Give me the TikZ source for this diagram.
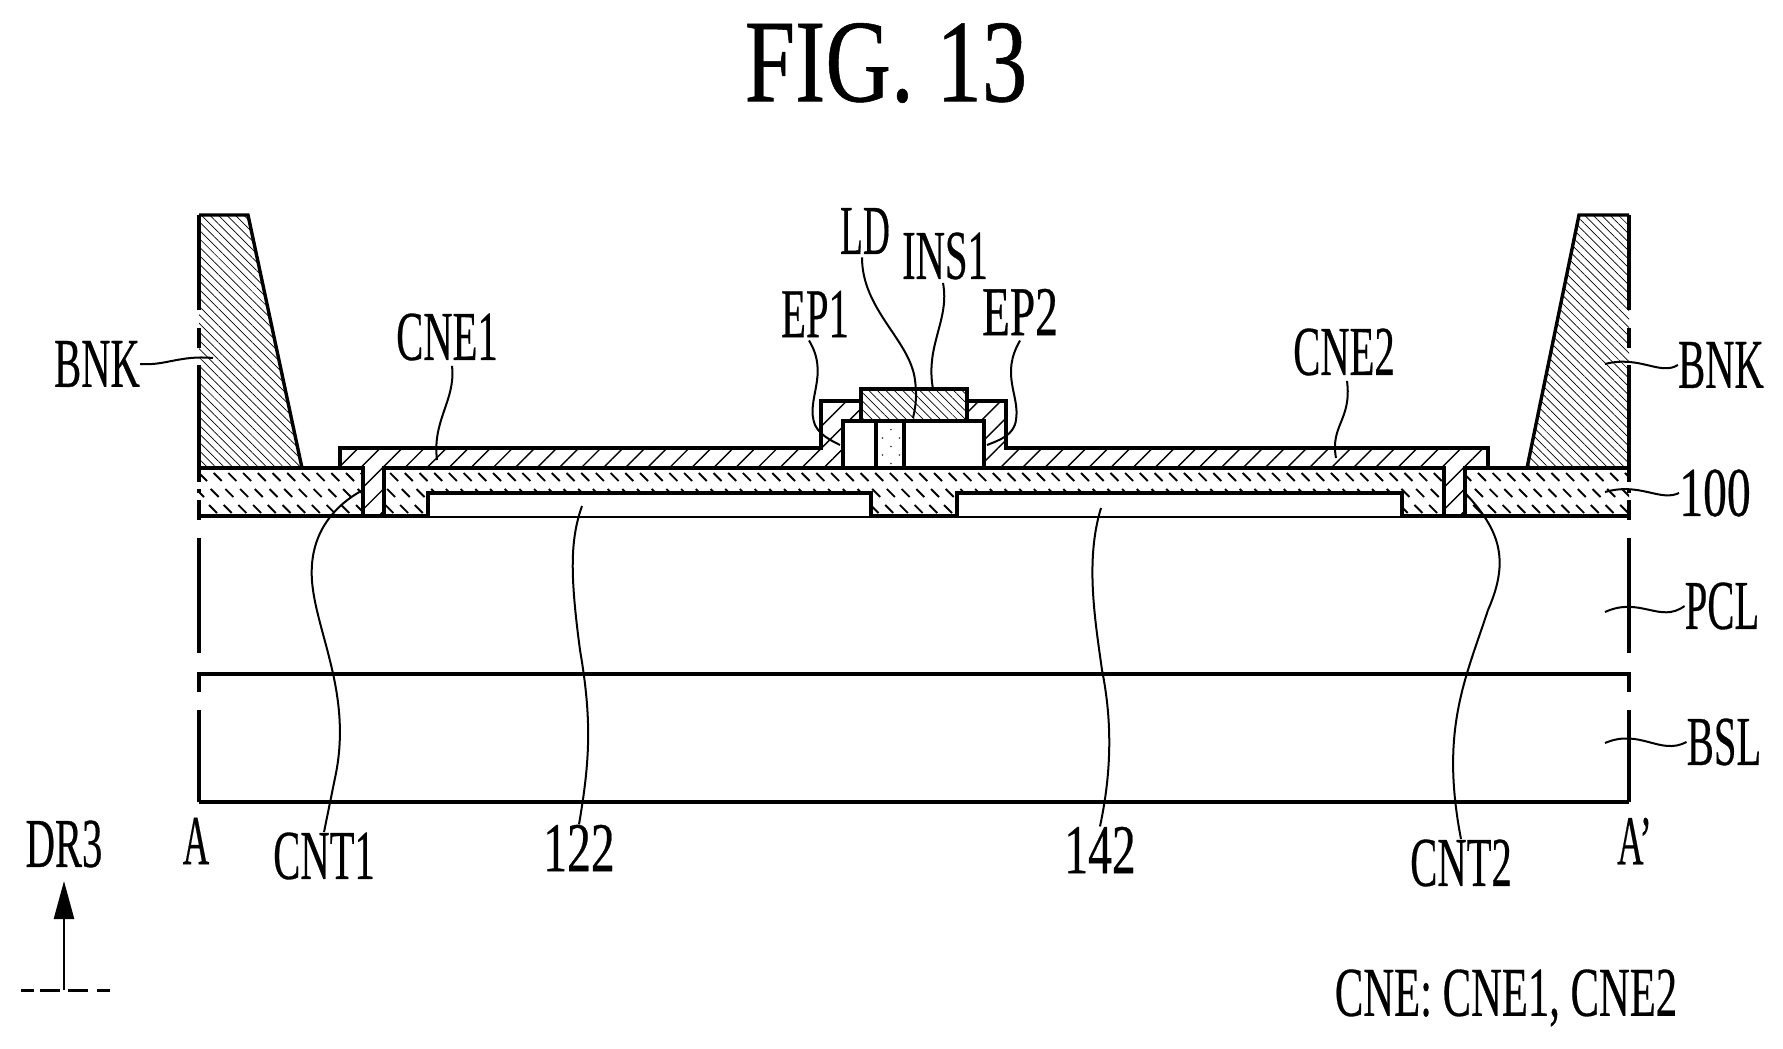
\documentclass[tikz,border=0pt]{standalone}
\usepackage{fontspec}
\setmainfont{Liberation Serif}[FakeBold=.5]
\usetikzlibrary{patterns.meta,arrows.meta}
\tikzset{
  lbl/.style={inner sep=0pt,font=\fontsize{35}{35}\selectfont,xscale=.58},
  num/.style={inner sep=0pt,font=\fontsize{35}{35}\selectfont,xscale=.68},
  part/.style={line width=1.7pt,line join=miter},
  leader/.style={line width=1pt},
  tick/.style={line width=.95pt},
  bnkhatch/.style={pattern={Lines[angle=-45,distance=3pt,line width=.35pt]}},
  cnehatch/.style={preaction={fill=white},pattern={Lines[angle=45,distance=7.8pt,line width=.7pt]}},
}
\begin{document}
\begin{tikzpicture}[line cap=butt,x=.5pt,y=-.5pt]
\useasboundingbox (0,0) rectangle (1783,1049);
%labels
\node[inner sep=0pt,font=\fontsize{59}{59}\selectfont,xscale=.77] (fig) at (886,63) {FIG. 13};
\node[lbl] (bnkl) at (97,364) {BNK};
\node[lbl] (bnkr) at (1721,365) {BNK};
\node[lbl] (cnea) at (447,337) {CNE1};
\node[lbl] (cneb) at (1344,352) {CNE2};
\node[lbl,xscale=.92] (ld) at (865,231) {LD};
\node[lbl] (insa) at (945,256) {INS1};
\node[lbl] (epa) at (815,314) {EP1};
\node[lbl,xscale=1.12] (epb) at (1020,312) {EP2};
\node[num] (sub) at (1715,493) {100};
\node[lbl] (pcl) at (1722,606) {PCL};
\node[lbl] (bsl) at (1724,742) {BSL};
\node[lbl,xscale=.9] (seca) at (196,841) {A};
\node[lbl,anchor=west,xscale=.9] (secb) at (1617,841) {A’};
\node[lbl] (cnta) at (324,856) {CNT1};
\node[num] (pa) at (579,848) {122};
\node[num] (pb) at (1100,850) {142};
\node[lbl] (cntb) at (1461,863) {CNT2};
\node[lbl] (dr) at (64,844) {DR3};
\node[lbl,xscale=1.05] (note) at (1506,998) {CNE: CNE1, CNE2};
%%%%%%%%
%bank left and right
\path[bnkhatch] (199,215) -- (248,215) -- (302,468) -- (199,468) -- cycle;
\path[bnkhatch] (1629,215) -- (1579,215) -- (1527,468) -- (1629,468) -- cycle;
\draw[part] (199,215) -- (248,215) -- (302,468);
\draw[part] (1629,215) -- (1579,215) -- (1527,468);
%layer 100 ticks
\begin{scope}
\clip (199,468) rectangle (1629,516);
\foreach \x in {0,...,97} {
  \draw[tick] (199+14.7*\x,473) -- +(8,8);
  \draw[tick] (196+14.7*\x,489) -- +(8,8);
  \draw[tick] (209+14.7*\x,505) -- +(8,8);
}
\end{scope}
\draw[part] (199,468) -- (1629,468);
\draw[part] (199,516) -- (1629,516);
%electrodes 122, 142
\draw[part,fill=white] (428,516) -- (428,493) -- (871,493) -- (871,516);
\draw[part,fill=white] (957,516) -- (957,493) -- (1402,493) -- (1402,516);
%CNE1, CNE2
\draw[part,cnehatch] (340,468) -- (340,448) -- (821,448) -- (821,401) -- (861,401) -- (861,421) -- (843,421) -- (843,468) -- (384,468) -- (384,516) -- (363,516) -- (363,468) -- cycle;
\draw[part,cnehatch] (967,401) -- (1006,401) -- (1006,448) -- (1488,448) -- (1488,468) -- (1465,468) -- (1465,516) -- (1444,516) -- (1444,468) -- (984,468) -- (984,421) -- (967,421) -- cycle;
%LD
\draw[part,fill=white] (843,421) rectangle (984,468);
\draw[part,pattern={Dots[angle=45,distance=6pt,radius=.4pt]}] (876,421) rectangle (904,468);
%INS1
\draw[part,fill=white] (861,389) rectangle (967,421);
\path[bnkhatch] (861,389) rectangle (967,421);
%%edges with breaks
\foreach \x in {199,1629} {
  \foreach \a/\b in {467/482,489/493,500/520,538/653,672/692,710/802}
    \draw[part] (\x,\a) -- (\x,\b);
}
\foreach \a/\b in {215/310,328/348,365/468}
  \draw[part] (199,\a) -- (199,\b);
\foreach \a/\b in {215/310,328/348,365/468}
  \draw[part] (1629,\a) -- (1629,\b);
%lower layers
\draw[part] (199,674) -- (1629,674);
\draw[part] (199,802) -- (1629,802);
%%leaders
\coordinate (bnkla) at (213,358);
\coordinate (bnkra) at (1605,364);
\coordinate (cneaa) at (437,460);
\coordinate (cneba) at (1336,458);
\coordinate (lda) at (913,418);
\coordinate (insaa) at (933,389);
\coordinate (epaa) at (840,445);
\coordinate (epba) at (987,445);
\coordinate (suba) at (1605,492);
\coordinate (pcla) at (1605,612);
\coordinate (bsla) at (1605,743);
\coordinate (cntaa) at (363,490);
\coordinate (paa) at (582,506);
\coordinate (pba) at (1101,508);
\coordinate (cntba) at (1465,493);
\draw[leader] (bnkl.east) .. controls (165,366) and (180,355) .. (bnkla);
\draw[leader] (bnkr.west) .. controls (1660,376) and (1640,355) .. (bnkra);
\draw[leader] (sub.west) .. controls (1660,502) and (1640,482) .. (suba);
\draw[leader] (pcl.west) .. controls (1660,624) and (1640,596) .. (pcla);
\draw[leader] (bsl.west) .. controls (1660,756) and (1640,728) .. (bsla);
\draw[leader] (cnea.south) ++(5,5) .. controls (456,400) and (432,420) .. (cneaa);
\draw[leader] (cneb.south) ++(3,5) .. controls (1352,420) and (1330,425) .. (cneba);
\draw[leader] (ld.south) ++(-3,3) .. controls (862,310) and (910,340) .. (915,380) .. controls (917,395) and (916,405) .. (lda);
\draw[leader] (insa.south) ++(-2,3) .. controls (950,320) and (925,345) .. (insaa);
\draw[leader] (epa.south) ++(-6,3) .. controls (830,375) and (805,400) .. (815,425) .. controls (820,435) and (830,440) .. (epaa);
\draw[leader] (epb.south) ++(0,5) .. controls (1000,375) and (1020,395) .. (1016,420) .. controls (1014,435) and (1000,440) .. (epba);
\draw[leader] (cntaa) .. controls (335,505) and (305,535) .. (313,590) .. controls (320,640) and (352,700) .. (335,778) -- (cnta.north);
\draw[leader] (paa) .. controls (570,540) and (570,575) .. (580,650) .. controls (592,720) and (590,760) .. (pa.north);
\draw[leader] (pba) .. controls (1085,560) and (1095,620) .. (1102,670) .. controls (1112,720) and (1112,770) .. (pb.north);
\draw[leader] (cntba) .. controls (1500,530) and (1510,560) .. (1488,610) .. controls (1465,680) and (1440,730) .. (cntb.north);
%%DR3 arrow
\coordinate (tip) at (64,881);
\coordinate (base) at (64,990);
\draw[line width=1.3pt,-{Stealth[length=19pt,width=10pt,inset=0pt]}] (base) -- (tip);
\draw[line width=1.5pt] (21,990) -- (34,990);
\draw[line width=1.5pt] (40,990) -- (60,990);
\draw[line width=1.5pt] (68,990) -- (88,990);
\draw[line width=1.5pt] (97,990) -- (110,990);
\end{tikzpicture}
\end{document}
